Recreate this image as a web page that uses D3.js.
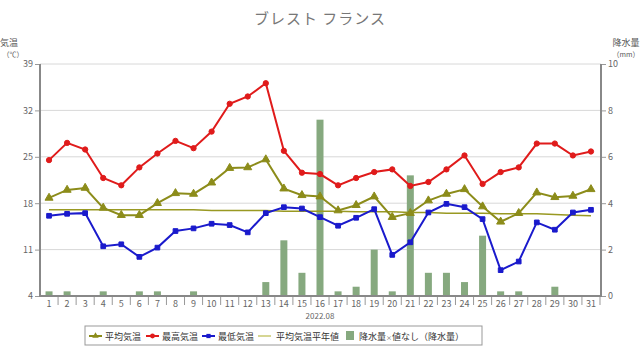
<!DOCTYPE html>
<html>
<head>
<meta charset="utf-8">
<script src="https://cdn.jsdelivr.net/npm/d3@7"></script>
<style>
  body { margin: 0; background: #fff; }
  text { font-family: "Noto Sans CJK JP", "DejaVu Sans", sans-serif; }
</style>
</head>
<body>
<div id="chart"></div>
<script>
const days = d3.range(1, 32);
const tempMax = [24.5, 27.1, 26.1, 21.8, 20.7, 23.4, 25.5, 27.4, 26.3, 28.8, 33.0, 34.1, 36.1, 25.9, 22.6, 22.4,
                 20.7, 21.8, 22.7, 23.1, 20.6, 21.2, 23.1, 25.2, 20.9, 22.7, 23.4, 27.0, 27.0, 25.2, 25.8];
const tempAvg = [18.8, 20.0, 20.3, 17.3, 16.2, 16.2, 18.0, 19.5, 19.4, 21.1, 23.3, 23.4, 24.6, 20.2, 19.2, 19.0,
                 16.9, 17.7, 19.0, 15.9, 16.5, 18.4, 19.4, 20.1, 17.5, 15.2, 16.5, 19.6, 18.9, 19.1, 20.1];
const tempMin = [16.1, 16.4, 16.5, 11.5, 11.8, 9.9, 11.3, 13.8, 14.2, 14.9, 14.7, 13.6, 16.5, 17.4, 17.2, 15.9,
                 14.6, 15.8, 17.1, 10.2, 12.1, 16.6, 17.9, 17.4, 15.6, 7.9, 9.2, 15.1, 14.0, 16.6, 17.0];
const tempNormal = [17.0, 17.0, 17.0, 17.0, 17.0, 17.0, 17.0, 17.0, 17.0, 16.9, 16.9, 16.9, 16.9, 16.8, 16.8, 16.8,
                    16.8, 16.7, 16.7, 16.7, 16.6, 16.6, 16.5, 16.5, 16.5, 16.4, 16.4, 16.4, 16.3, 16.2, 16.1];
const precip = [0.2, 0.2, 0, 0.2, 0, 0.2, 0.2, 0, 0.2, 0, 0, 0, 0.6, 2.4, 1.0, 7.6,
                0.2, 0.4, 2.0, 0.2, 5.2, 1.0, 1.0, 0.6, 2.6, 0.2, 0.2, 0, 0.4, 0, 0];
const tempTicks = [4, 11, 18, 25, 32, 39];
const rainTicks = [0, 2, 4, 6, 8, 10];

const width = 640, height = 360;
const plotLeft = 40, plotRight = 601, plotTop = 64, plotBottom = 296;

const svg = d3.select('#chart').append('svg')
    .attr('width', width)
    .attr('height', height);

const x = d3.scaleBand().domain(days).range([plotLeft, 600]);
const yT = d3.scaleLinear().domain([4, 39]).range([plotBottom, plotTop]);
const yR = d3.scaleLinear().domain([0, 10]).range([plotBottom, plotTop]);

// title
svg.append('text')
    .attr('x', 320).attr('y', 24)
    .attr('text-anchor', 'middle')
    .attr('font-size', 15)
    .attr('letter-spacing', 1)
    .attr('fill', '#777')
    .text('ブレスト フランス');

// gridlines
svg.append('g').selectAll('line')
    .data(tempTicks.slice(1))
    .enter().append('line')
    .attr('x1', plotLeft).attr('x2', plotRight)
    .attr('y1', d => yT(d)).attr('y2', d => yT(d))
    .attr('stroke', '#d8d8d8')
    .attr('stroke-width', 1);

// precipitation bars
svg.append('g').selectAll('rect')
    .data(precip.map((v, i) => ({day: days[i], v: v})).filter(d => d.v > 0))
    .enter().append('rect')
    .attr('x', d => x(d.day) + x.bandwidth() / 2 - 3.5)
    .attr('width', 7)
    .attr('y', d => yR(d.v))
    .attr('height', d => plotBottom - yR(d.v))
    .attr('fill', '#86a97f');

// axes frame
svg.append('line').attr('x1', plotLeft).attr('x2', plotLeft).attr('y1', plotTop).attr('y2', plotBottom + 1)
    .attr('stroke', '#888').attr('stroke-width', 2);
svg.append('line').attr('x1', plotRight).attr('x2', plotRight).attr('y1', plotTop).attr('y2', plotBottom + 1)
    .attr('stroke', '#888').attr('stroke-width', 2);
svg.append('line').attr('x1', plotLeft).attr('x2', plotRight).attr('y1', plotBottom).attr('y2', plotBottom)
    .attr('stroke', '#888').attr('stroke-width', 2);

// left axis
const axL = svg.append('g').attr('transform', `translate(${plotLeft - 1},0)`)
    .call(d3.axisLeft(yT).tickValues(tempTicks).tickSize(4).tickPadding(2));
// right axis
const axR = svg.append('g').attr('transform', `translate(${plotRight + 1},0)`)
    .call(d3.axisRight(yR).tickValues(rainTicks).tickSize(4).tickPadding(2));
// bottom axis
const axB = svg.append('g').attr('transform', `translate(0,${plotBottom + 1})`)
    .call(d3.axisBottom(x).tickSize(0).tickPadding(4));
axB.selectAll('.tick').append('line')
    .attr('x1', x.bandwidth() / 2).attr('x2', x.bandwidth() / 2)
    .attr('y1', 0).attr('y2', 8)
    .attr('stroke', '#999');

[axL, axR, axB].forEach(a => {
    a.select('.domain').remove();
    a.selectAll('.tick line').attr('stroke', '#999');
    a.selectAll('text')
        .attr('fill', '#666')
        .attr('font-size', 9)
        .attr('font-family', 'DejaVu Sans, sans-serif');
});

svg.append('text')
    .attr('x', x(16) + x.bandwidth() / 2).attr('y', 319)
    .attr('text-anchor', 'middle')
    .attr('font-size', 8)
    .attr('font-family', 'DejaVu Sans, sans-serif')
    .attr('fill', '#666')
    .text('2022.08');

// axis titles
svg.append('text').attr('x', 9).attr('y', 46).attr('text-anchor', 'middle')
    .attr('font-size', 9).attr('fill', '#555').text('気温');
svg.append('text').attr('x', 13).attr('y', 57).attr('text-anchor', 'middle')
    .attr('font-size', 7).attr('fill', '#555').text('（℃）');
svg.append('text').attr('x', 626).attr('y', 46).attr('text-anchor', 'middle')
    .attr('font-size', 9).attr('fill', '#555').text('降水量');
svg.append('text').attr('x', 626).attr('y', 57).attr('text-anchor', 'middle')
    .attr('font-size', 7).attr('fill', '#555').text('（mm）');

const cx = d => x(d) + x.bandwidth() / 2;

// normal line
svg.append('path')
    .datum(tempNormal)
    .attr('fill', 'none')
    .attr('stroke', '#999922')
    .attr('stroke-width', 1.5)
    .attr('d', d3.line().x((d, i) => cx(days[i])).y(d => yT(d)));

function series(values, color, shape) {
    const g = svg.append('g');
    g.append('path')
        .datum(values)
        .attr('fill', 'none')
        .attr('stroke', color)
        .attr('stroke-width', 2)
        .attr('d', d3.line().x((d, i) => cx(days[i])).y(d => yT(d)));
    g.selectAll('path.m')
        .data(values)
        .enter().append('path')
        .attr('class', 'm')
        .attr('transform', (d, i) => `translate(${cx(days[i])},${yT(d)})`)
        .attr('d', d3.symbol().type(shape).size(shape === d3.symbolTriangle ? 28 : 22))
        .attr('fill', color)
        .attr('stroke', color);
}

series(tempAvg, '#8c8c1a', d3.symbolTriangle);
series(tempMax, '#e01b1b', d3.symbolCircle);
series(tempMin, '#1a1acc', d3.symbolSquare);

// legend
const lg = svg.append('g');
lg.append('rect').attr('x', 85).attr('y', 326).attr('width', 397).attr('height', 19)
    .attr('fill', '#fff').attr('stroke', '#999');

const legendItems = [
    {label: '平均気温', color: '#8c8c1a', shape: d3.symbolTriangle, x: 89},
    {label: '最高気温', color: '#e01b1b', shape: d3.symbolCircle, x: 146},
    {label: '最低気温', color: '#1a1acc', shape: d3.symbolSquare, x: 202}
];
legendItems.forEach(it => {
    lg.append('line').attr('x1', it.x).attr('x2', it.x + 13).attr('y1', 336).attr('y2', 336)
        .attr('stroke', it.color).attr('stroke-width', 2);
    lg.append('path').attr('transform', `translate(${it.x + 6.5},336)`)
        .attr('d', d3.symbol().type(it.shape).size(18)).attr('fill', it.color);
    lg.append('text').attr('x', it.x + 16).attr('y', 339.5).attr('font-size', 9)
        .attr('fill', '#333').text(it.label);
});
lg.append('line').attr('x1', 258).attr('x2', 271).attr('y1', 336).attr('y2', 336)
    .attr('stroke', '#c8c870').attr('stroke-width', 1.5);
lg.append('text').attr('x', 276).attr('y', 339.5).attr('font-size', 9).attr('fill', '#333').text('平均気温平年値');
lg.append('rect').attr('x', 346).attr('y', 331).attr('width', 8).attr('height', 9).attr('fill', '#86a97f');
lg.append('text').attr('x', 359).attr('y', 339.5).attr('font-size', 9).attr('fill', '#333').text('降水量');
lg.append('text').attr('x', 386).attr('y', 339.5).attr('font-size', 6).attr('fill', '#555').text('×');
lg.append('text').attr('x', 392).attr('y', 339.5).attr('font-size', 9).attr('fill', '#333').text('値なし（降水量）');
</script>
</body>
</html>
